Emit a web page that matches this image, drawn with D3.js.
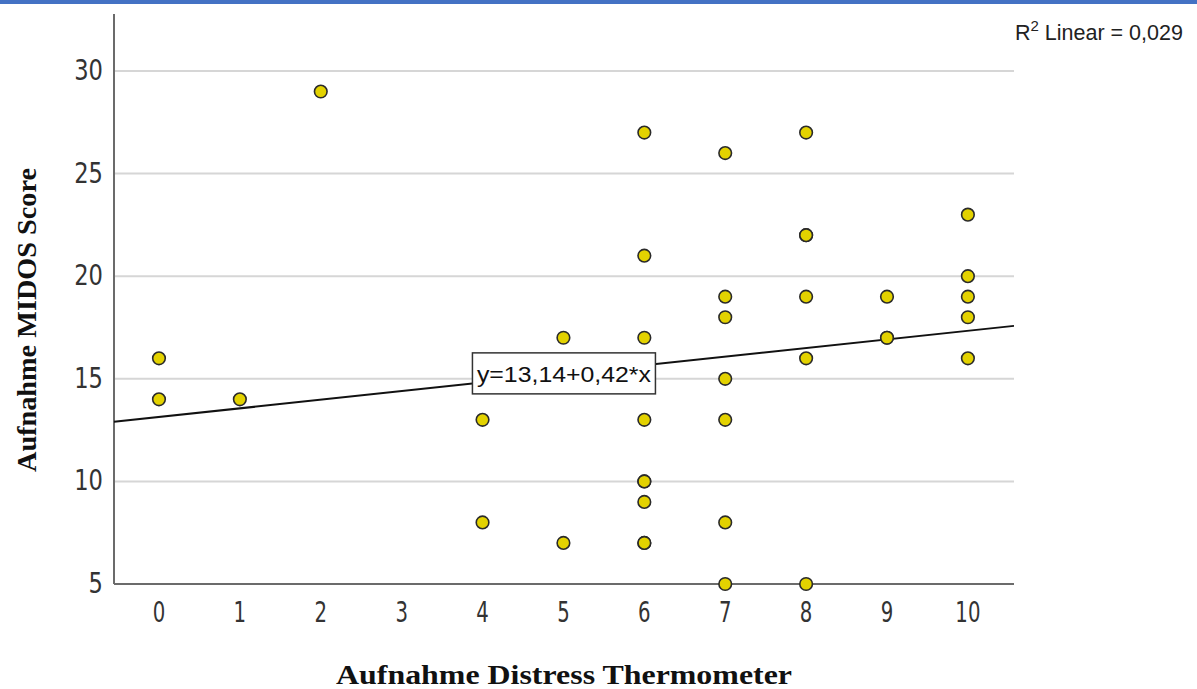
<!DOCTYPE html>
<html><head><meta charset="utf-8">
<script src="https://cdn.jsdelivr.net/npm/d3@7"></script>
<style>body{margin:0;background:#fff}svg{display:block}</style>
</head><body>
<svg id="c" width="1197" height="689"></svg>
<script>
const xTicks = [0,1,2,3,4,5,6,7,8,9,10];
const yTicks = [5,10,15,20,25,30];
const xValues = [0,0, 1, 2, 4,4, 5,5, 6,6,6,6,6,6,6,6,6, 7,7,7,7,7,7,7, 8,8,8,8,8,8, 9,9,9, 10,10,10,10,10];
const yValues = [16,14, 14, 29, 13,8, 17,7, 27,21,17,13,10,10,9,7,7, 26,19,18,15,13,8,5, 27,22,22,19,16,5, 19,17,17, 23,20,19,18,16];
const intercept = 13.14, slope = 0.42;
const xTitle = "Aufnahme Distress Thermometer";
const yTitle = "Aufnahme MIDOS Score";
const eqLabel = "y=13,14+0,42*x";
const r2Label = "Linear = 0,029";

const svg = d3.select("#c");
const x = d3.scaleLinear().domain([-0.556, 10.57]).range([114, 1014]);
const y = d3.scaleLinear().domain([5, 30]).range([584, 71]);
const yTop = y.invert(14);

// top blue bar (screenshot edge)
svg.append("rect").attr("x",0).attr("y",0).attr("width",1197).attr("height",4).attr("fill","#4472c4");

// gridlines
svg.append("g").selectAll("line").data(yTicks.filter(d=>d>5)).join("line")
  .attr("x1", x.range()[0]).attr("x2", x.range()[1])
  .attr("y1", d=>y(d)).attr("y2", d=>y(d))
  .attr("stroke","#d6d6d6").attr("stroke-width",2);

// axes lines
svg.append("line").attr("x1",x.range()[0]).attr("x2",x.range()[0]).attr("y1",y(yTop)).attr("y2",y(5))
  .attr("stroke","#6b6b6b").attr("stroke-width",2);
svg.append("line").attr("x1",x.range()[0]).attr("x2",x.range()[1]).attr("y1",y(5)).attr("y2",y(5))
  .attr("stroke","#6b6b6b").attr("stroke-width",2);

// tick labels
const tickFont = "'DejaVu Sans', sans-serif";
svg.append("g").selectAll("text").data(yTicks).join("text")
  .attr("transform", d=>`translate(103,${y(d)+9}) scale(0.78,1)`)
  .attr("text-anchor","end").attr("font-family",tickFont).attr("font-size",29)
  .attr("fill","#333").text(d=>d);
svg.append("g").selectAll("text").data(xTicks).join("text")
  .attr("transform", d=>`translate(${x(d)},622) scale(0.68,1)`)
  .attr("text-anchor","middle").attr("font-family",tickFont).attr("font-size",29)
  .attr("fill","#333").text(d=>d);

// regression line
const xd = x.domain();
svg.append("line")
  .attr("x1", x(xd[0])).attr("y1", y(intercept+slope*xd[0]))
  .attr("x2", x(xd[1])).attr("y2", y(intercept+slope*xd[1]))
  .attr("stroke","#111").attr("stroke-width",2);

// points
svg.append("g").selectAll("circle").data(xValues.map((v,i)=>[v,yValues[i]])).join("circle")
  .attr("cx", d=>x(d[0])).attr("cy", d=>y(d[1])).attr("r",6.3)
  .attr("fill","#e3d200").attr("stroke","#2a2a2a").attr("stroke-width",1.6);

// equation box, centered on the line at x=5
const ex = 5, ey = intercept + slope*ex;
const eg = svg.append("g").attr("transform",`translate(${x(ex)},${y(ey)})`);
eg.append("rect").attr("x",-91).attr("y",-21).attr("width",183).attr("height",41)
  .attr("fill","#fff").attr("stroke","#333").attr("stroke-width",1.5);
eg.append("text").attr("x",0.5).attr("y",8).attr("text-anchor","middle")
  .attr("font-family","'Liberation Sans', Arial, sans-serif").attr("font-size",22)
  .attr("textLength",174).attr("lengthAdjust","spacingAndGlyphs")
  .attr("fill","#111").text(eqLabel);

// R2 label
const rt = svg.append("text").attr("x",1015).attr("y",40)
  .attr("font-family","'Liberation Sans', Arial, sans-serif").attr("font-size",21.5).attr("fill","#222");
rt.append("tspan").text("R");
rt.append("tspan").attr("dy",-9).attr("font-size",15).text("2");
rt.append("tspan").attr("dy",9).text(" " + r2Label);

// axis titles
svg.append("text").attr("x",564).attr("y",684).attr("text-anchor","middle")
  .attr("font-family","'Liberation Serif', 'DejaVu Serif', serif").attr("font-weight","bold").attr("font-size",27)
  .attr("textLength",456).attr("lengthAdjust","spacingAndGlyphs").attr("fill","#111").text(xTitle);
svg.append("text").attr("transform","translate(36,320) rotate(-90)").attr("text-anchor","middle")
  .attr("font-family","'Liberation Serif', 'DejaVu Serif', serif").attr("font-weight","bold").attr("font-size",27)
  .attr("textLength",304).attr("lengthAdjust","spacingAndGlyphs").attr("fill","#111").text(yTitle);
</script>
</body></html>
